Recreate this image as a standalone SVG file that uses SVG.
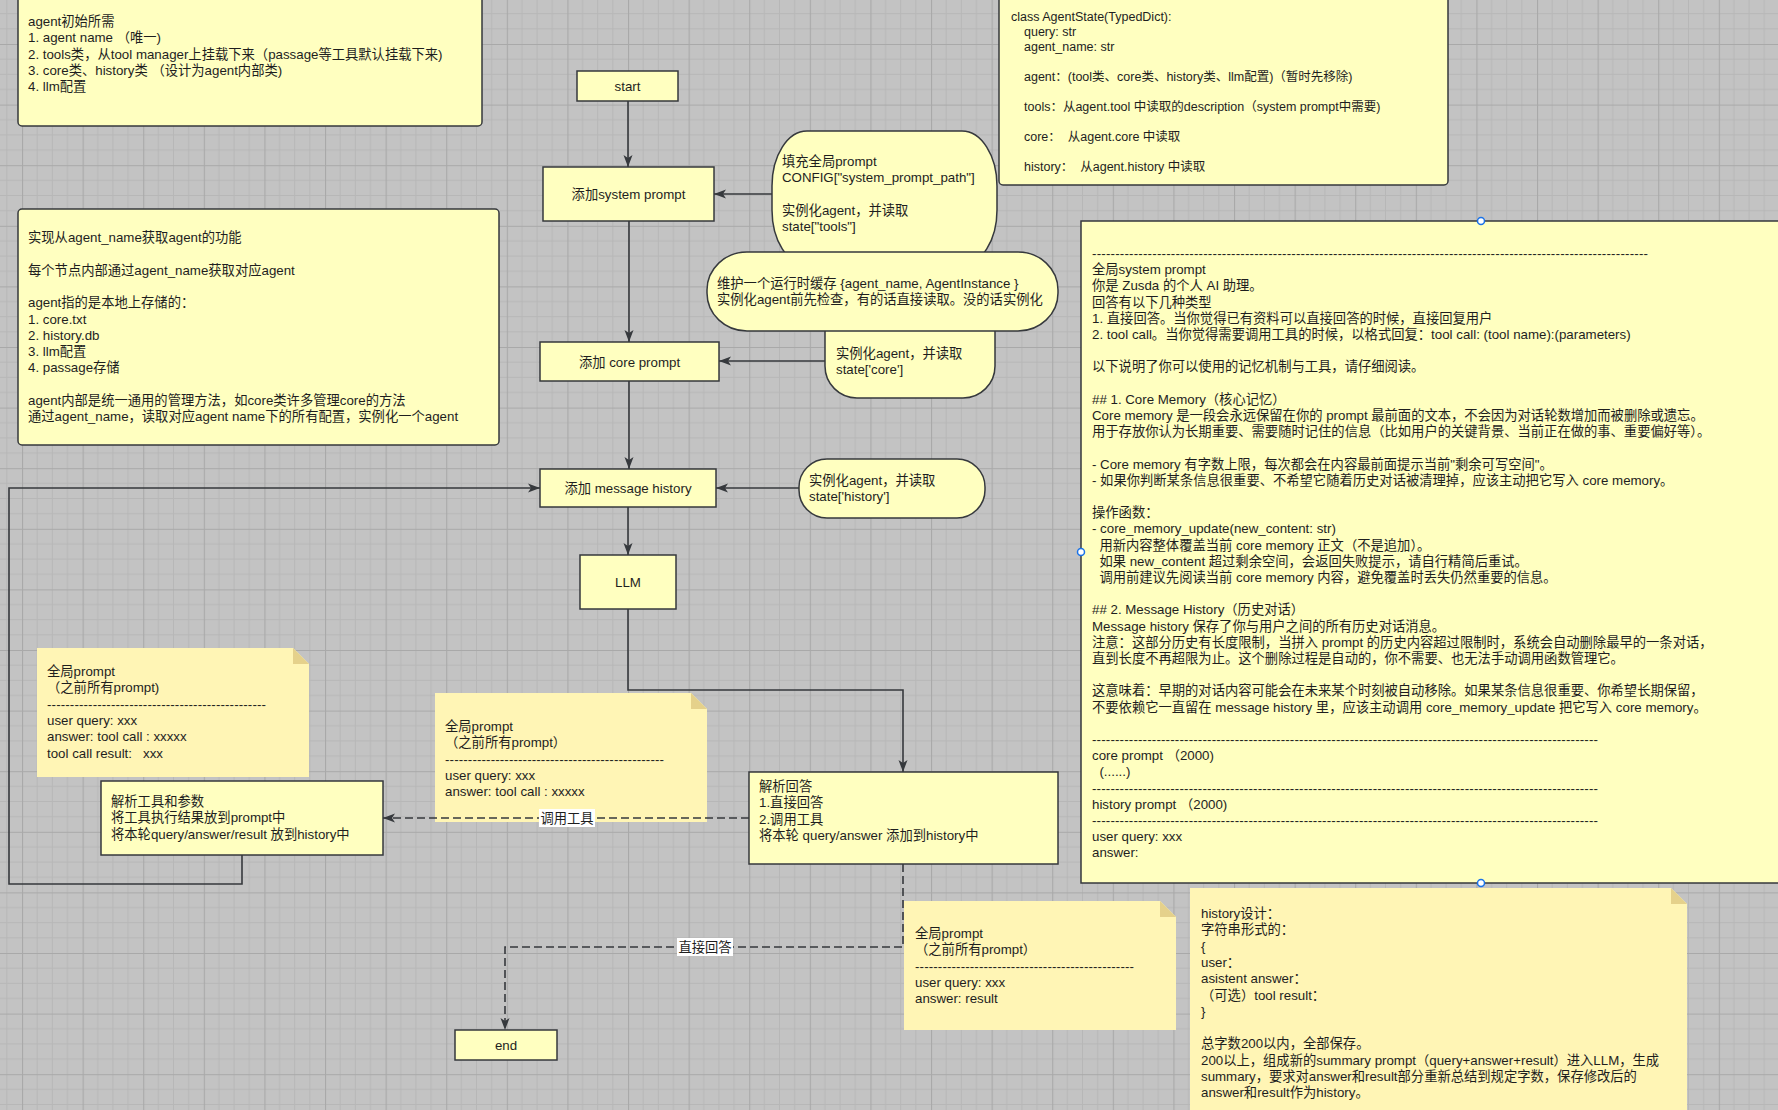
<svg xmlns="http://www.w3.org/2000/svg" width="1778" height="1110" viewBox="0 0 1778 1110">
<defs>
<pattern id="grid" width="60.6" height="60.6" x="22" y="44" patternUnits="userSpaceOnUse">
<rect width="60.6" height="60.6" fill="#c3c3c3"/>
<path d="M15.15 0V60.6M30.3 0V60.6M45.45 0V60.6M0 15.15H60.6M0 30.3H60.6M0 45.45H60.6" stroke="#b7b7b7" stroke-width="1" fill="none"/>
<path d="M0.5 0V60.6M0 0.5H60.6" stroke="#a9a9a9" stroke-width="1.2" fill="none"/>
</pattern>
<marker id="arr" markerUnits="userSpaceOnUse" markerWidth="13" markerHeight="10" refX="12" refY="5" orient="auto">
<path d="M0,0.5 L12,5 L0,9.5 L3,5 Z" fill="#36393d"/>
</marker>
</defs>
<style>
.box{fill:#ffffc0;stroke:#36393d;stroke-width:1.5}
.sticky{fill:#fff5b5}
.fold{fill:#e5d18b}
.conn{fill:none;stroke:#36393d;stroke-width:1.6}
.dash{stroke-dasharray:8 4}
text{font-family:"Liberation Sans","Noto Sans CJK SC",sans-serif;font-size:13.3px;fill:#1e1e1e}
.c{text-anchor:middle}
.sm{font-size:12.5px}
.lbl{fill:#ffffff}
.handle{fill:#ffffff;stroke:#1a73e8;stroke-width:1.5}
</style>
<rect width="1778" height="1110" fill="url(#grid)"/>

<g id="note-init">
<rect class="box" x="18" y="-6" width="464" height="132" rx="4"/>
<text x="28" y="26">agent初始所需</text>
<text x="28" y="42.3">1. agent name （唯一)</text>
<text x="28" y="58.6">2. tools类，从tool manager上挂载下来（passage等工具默认挂载下来)</text>
<text x="28" y="74.9">3. core类、history类 （设计为agent内部类)</text>
<text x="28" y="91.2">4. llm配置</text>
</g>

<g id="note-state">
<rect class="box" x="999" y="-6" width="449" height="191" rx="4"/>
<text class="sm" x="1011" y="20.5">class AgentState(TypedDict):</text>
<text class="sm" x="1024" y="35.5">query: str</text>
<text class="sm" x="1024" y="50.5">agent_name: str</text>
<text class="sm" x="1024" y="80.5">agent：(tool类、core类、history类、llm配置)（暂时先移除)</text>
<text class="sm" x="1024" y="110.5">tools：从agent.tool 中读取的description（system prompt中需要)</text>
<text class="sm" x="1024" y="140.5" xml:space="preserve">core：  从agent.core 中读取</text>
<text class="sm" x="1024" y="170.5" xml:space="preserve">history：  从agent.history 中读取</text>
</g>

<g id="note-impl">
<rect class="box" x="18" y="209" width="481" height="236" rx="4"/>
<text x="28" y="242">实现从agent_name获取agent的功能</text>
<text x="28" y="274.6">每个节点内部通过agent_name获取对应agent</text>
<text x="28" y="307.2">agent指的是本地上存储的：</text>
<text x="28" y="323.5">1. core.txt</text>
<text x="28" y="339.8">2. history.db</text>
<text x="28" y="356.1">3. llm配置</text>
<text x="28" y="372.4">4. passage存储</text>
<text x="28" y="405">agent内部是统一通用的管理方法，如core类许多管理core的方法</text>
<text x="28" y="421.3">通过agent_name，读取对应agent name下的所有配置，实例化一个agent</text>
</g>

<g id="node-start">
<rect class="box" x="577" y="71" width="101" height="30"/>
<text class="c" x="627.5" y="91">start</text>
</g>

<g id="node-sys">
<rect class="box" x="543" y="167" width="171" height="54"/>
<text class="c" x="628.5" y="199">添加system prompt</text>
</g>

<g id="node-fill">
<rect class="box" x="772" y="131" width="225" height="134" rx="35" ry="55"/>
<text x="782" y="166">填充全局prompt</text>
<text x="782" y="182.3">CONFIG["system_prompt_path"]</text>
<text x="782" y="214.9">实例化agent，并读取</text>
<text x="782" y="231.2">state["tools"]</text>
</g>

<g id="node-core-state">
<rect class="box" x="825" y="300" width="170" height="98" rx="32" ry="32"/>
<text x="836" y="358">实例化agent，并读取</text>
<text x="836" y="374.3">state['core']</text>
</g>

<g id="node-cache">
<rect class="box" x="707" y="252" width="351" height="79" rx="40" ry="38"/>
<text x="717" y="288">维护一个运行时缓存 {agent_name, AgentInstance }</text>
<text x="717" y="304.3">实例化agent前先检查，有的话直接读取。没的话实例化</text>
</g>

<g id="node-core">
<rect class="box" x="540" y="342" width="179" height="39"/>
<text class="c" x="629.5" y="366.5">添加 core prompt</text>
</g>

<g id="node-msg">
<rect class="box" x="540" y="469" width="176" height="38"/>
<text class="c" x="628" y="493">添加 message history</text>
</g>

<g id="node-hist-state">
<rect class="box" x="799" y="459" width="186" height="59" rx="28" ry="28"/>
<text x="809" y="485">实例化agent，并读取</text>
<text x="809" y="501.3">state['history']</text>
</g>

<g id="node-llm">
<rect class="box" x="580" y="555" width="96" height="54"/>
<text class="c" x="628" y="587">LLM</text>
</g>

<g id="note-sys-prompt">
<rect class="box" x="1081" y="221" width="760" height="662"/>
<text x="1092" y="258" textLength="556" lengthAdjust="spacing">------------------------------------------------------------------------------------------------------------------------</text>
<text x="1092" y="274.2">全局system prompt</text>
<text x="1092" y="290.4">你是 Zusda 的个人 AI 助理。</text>
<text x="1092" y="306.6">回答有以下几种类型</text>
<text x="1092" y="322.8">1. 直接回答。当你觉得已有资料可以直接回答的时候，直接回复用户</text>
<text x="1092" y="339">2. tool call。当你觉得需要调用工具的时候，以格式回复：tool call: (tool name):(parameters)</text>
<text x="1092" y="371.4">以下说明了你可以使用的记忆机制与工具，请仔细阅读。</text>
<text x="1092" y="403.8">## 1. Core Memory（核心记忆）</text>
<text x="1092" y="420">Core memory 是一段会永远保留在你的 prompt 最前面的文本，不会因为对话轮数增加而被删除或遗忘。</text>
<text x="1092" y="436.2">用于存放你认为长期重要、需要随时记住的信息（比如用户的关键背景、当前正在做的事、重要偏好等）。</text>
<text x="1092" y="468.6">- Core memory 有字数上限，每次都会在内容最前面提示当前"剩余可写空间"。</text>
<text x="1092" y="484.8">- 如果你判断某条信息很重要、不希望它随着历史对话被清理掉，应该主动把它写入 core memory。</text>
<text x="1092" y="517.2">操作函数：</text>
<text x="1092" y="533.4">- core_memory_update(new_content: str)</text>
<text x="1092" y="549.6" xml:space="preserve">  用新内容整体覆盖当前 core memory 正文（不是追加）。</text>
<text x="1092" y="565.8" xml:space="preserve">  如果 new_content 超过剩余空间，会返回失败提示，请自行精简后重试。</text>
<text x="1092" y="582" xml:space="preserve">  调用前建议先阅读当前 core memory 内容，避免覆盖时丢失仍然重要的信息。</text>
<text x="1092" y="614.4">## 2. Message History（历史对话）</text>
<text x="1092" y="630.6">Message history 保存了你与用户之间的所有历史对话消息。</text>
<text x="1092" y="646.8">注意：这部分历史有长度限制，当拼入 prompt 的历史内容超过限制时，系统会自动删除最早的一条对话，</text>
<text x="1092" y="663">直到长度不再超限为止。这个删除过程是自动的，你不需要、也无法手动调用函数管理它。</text>
<text x="1092" y="695.4">这意味着：早期的对话内容可能会在未来某个时刻被自动移除。如果某条信息很重要、你希望长期保留，</text>
<text x="1092" y="711.6">不要依赖它一直留在 message history 里，应该主动调用 core_memory_update 把它写入 core memory。</text>
<text x="1092" y="744" textLength="506" lengthAdjust="spacing">--------------------------------------------------------------------------------------------------------------</text>
<text x="1092" y="760.2">core prompt （2000)</text>
<text x="1092" y="776.4" xml:space="preserve">  (......)</text>
<text x="1092" y="792.6" textLength="506" lengthAdjust="spacing">--------------------------------------------------------------------------------------------------------------</text>
<text x="1092" y="808.8">history prompt （2000)</text>
<text x="1092" y="825" textLength="506" lengthAdjust="spacing">--------------------------------------------------------------------------------------------------------------</text>
<text x="1092" y="841.2">user query: xxx</text>
<text x="1092" y="857.4">answer:</text>
</g>

<g id="sticky-1">
<path class="sticky" d="M37 648H293L309 664V777H37Z"/>
<path class="fold" d="M293 648V664H309Z"/>
<text x="47" y="676">全局prompt</text>
<text x="47" y="692.3">（之前所有prompt)</text>
<text x="47" y="708.6" textLength="219" lengthAdjust="spacing">------------------------------------------------</text>
<text x="47" y="725">user query: xxx</text>
<text x="47" y="741.2">answer: tool call : xxxxx</text>
<text x="47" y="757.5" xml:space="preserve">tool call result:   xxx</text>
</g>

<g id="sticky-2">
<path class="sticky" d="M435 693H691L707 709V822H435Z"/>
<path class="fold" d="M691 693V709H707Z"/>
<text x="445" y="731">全局prompt</text>
<text x="445" y="747.3">（之前所有prompt）</text>
<text x="445" y="763.6" textLength="219" lengthAdjust="spacing">------------------------------------------------</text>
<text x="445" y="780">user query: xxx</text>
<text x="445" y="796.2">answer: tool call : xxxxx</text>
</g>

<g id="sticky-3">
<path class="sticky" d="M904 901H1160L1176 917V1030H904Z"/>
<path class="fold" d="M1160 901V917H1176Z"/>
<text x="915" y="938">全局prompt</text>
<text x="915" y="954.3">（之前所有prompt）</text>
<text x="915" y="970.6" textLength="219" lengthAdjust="spacing">------------------------------------------------</text>
<text x="915" y="987">user query: xxx</text>
<text x="915" y="1003.2">answer: result</text>
</g>

<g id="sticky-history">
<path class="sticky" d="M1190 888H1671L1687 904V1120H1190Z"/>
<path class="fold" d="M1671 888V904H1687Z"/>
<text x="1201" y="918">history设计：</text>
<text x="1201" y="934.3">字符串形式的：</text>
<text x="1201" y="950.6">{</text>
<text x="1201" y="966.9">user：</text>
<text x="1201" y="983.2">asistent answer：</text>
<text x="1201" y="999.5">（可选）tool result：</text>
<text x="1201" y="1015.8">}</text>
<text x="1201" y="1048.4">总字数200以内，全部保存。</text>
<text x="1201" y="1064.7">200以上，组成新的summary prompt（query+answer+result）进入LLM，生成</text>
<text x="1201" y="1081">summary，要求对answer和result部分重新总结到规定字数，保存修改后的</text>
<text x="1201" y="1097.3">answer和result作为history。</text>
</g>

<g id="node-parse-tool">
<rect class="box" x="101" y="781" width="282" height="74"/>
<text x="111" y="806">解析工具和参数</text>
<text x="111" y="822.3">将工具执行结果放到prompt中</text>
<text x="111" y="838.6">将本轮query/answer/result 放到history中</text>
</g>

<g id="node-parse-answer">
<rect class="box" x="749" y="772" width="309" height="92"/>
<text x="759" y="791">解析回答</text>
<text x="759" y="807.3">1.直接回答</text>
<text x="759" y="823.6">2.调用工具</text>
<text x="759" y="840">将本轮 query/answer 添加到history中</text>
</g>

<g id="node-end">
<rect class="box" x="455" y="1030" width="102" height="30"/>
<text class="c" x="506" y="1050">end</text>
</g>

<g id="connectors">
<path class="conn" d="M628 101V167" marker-end="url(#arr)"/>
<path class="conn" d="M772 194H714" marker-end="url(#arr)"/>
<path class="conn" d="M629 221V342" marker-end="url(#arr)"/>
<path class="conn" d="M825 361H719" marker-end="url(#arr)"/>
<path class="conn" d="M629 381V469" marker-end="url(#arr)"/>
<path class="conn" d="M799 488H716" marker-end="url(#arr)"/>
<path class="conn" d="M628 507V555" marker-end="url(#arr)"/>
<path class="conn" d="M628 609V690H903V772" marker-end="url(#arr)"/>
<path class="conn dash" d="M749 818H383" marker-end="url(#arr)"/>
<path class="conn" d="M242 855V884H9V488H540" marker-end="url(#arr)"/>
<path class="conn dash" d="M903 864V947H505V1030" marker-end="url(#arr)"/>
<rect class="lbl" x="539" y="809" width="56" height="18"/>
<text class="c" x="567" y="823">调用工具</text>
<rect class="lbl" x="677" y="938" width="56" height="18"/>
<text class="c" x="705" y="952">直接回答</text>
</g>

<g id="handles">
<circle class="handle" cx="1481" cy="221" r="3.5"/>
<circle class="handle" cx="1081" cy="552" r="3.5"/>
<circle class="handle" cx="1481" cy="883" r="3.5"/>
</g>
</svg>
